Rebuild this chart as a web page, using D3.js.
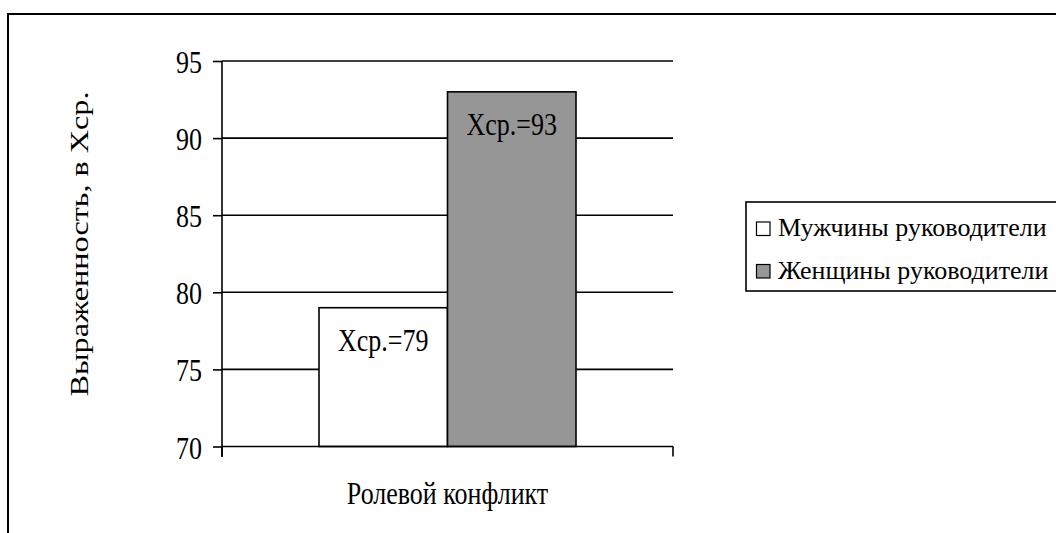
<!DOCTYPE html>
<html><head><meta charset="utf-8">
<script src="https://cdn.jsdelivr.net/npm/d3@7"></script>
<style>body{margin:0;background:#fff}svg{display:block}</style>
</head><body>
<svg id="c" width="1056" height="533" font-family="Times New Roman"></svg>
<script>
const categories = ["Ролевой конфликт"];
const seriesNames = ["Мужчины руководители", "Женщины руководители"];
const seriesValues = [79, 93];
const barLabels = ["Хср.=79", "Хср.=93"];
const seriesColors = ["#ffffff", "#969696"];
const yTicks = [70, 75, 80, 85, 90, 95];
const yTitle = "Выраженность, в Хср.";

(function(){
const svg = d3.select("#c");
const FF = "Times New Roman";
const fs = 26, sy = 1.2;
function txt(sel, size){ return sel.attr("font-family", FF).style("font-family", FF).style("font-size", size + "px").style("fill", "#000"); }
function placed(parent, x, b){ return txt(parent.append("text").attr("transform", `translate(${x},${b}) scale(1,${sy})`), fs); }

// outer frame
svg.append("path").attr("d","M8,540 V14 H1070").attr("fill","none").attr("stroke","#000").attr("stroke-width",2);

const pL = 222, pR = 673, pT = 61, pB = 446.5;
const y = d3.scaleLinear().domain([70,95]).range([pB, pT]);
const x0 = d3.scaleBand().domain(categories).range([pL, pR]);
const x1 = d3.scaleBand().domain(seriesNames).range([319 - pL, 576 - pL]);

// gridlines
svg.append("g").selectAll("line").data(yTicks.filter(t=>t>70)).join("line")
  .attr("x1", pL).attr("x2", pR).attr("y1", d=>y(d)).attr("y2", d=>y(d))
  .attr("stroke","#000").attr("stroke-width",1.6);

// bars
const g = svg.append("g");
seriesNames.forEach((s,i)=>{
  const bx = x0(categories[0]) + x1(s);
  g.append("rect").attr("x", bx).attr("y", y(seriesValues[i])).attr("width", x1.bandwidth()).attr("height", y(70)-y(seriesValues[i]))
   .attr("fill", seriesColors[i]).attr("stroke","#000").attr("stroke-width",1.6);
  placed(g, bx + x1.bandwidth()/2, y(seriesValues[i]) + 43).attr("text-anchor","middle").text(barLabels[i]);
});

// y axis
const yAxis = d3.axisLeft(y).tickValues(yTicks).tickSize(9).tickPadding(10).tickSizeOuter(0);
const ya = svg.append("g").attr("transform",`translate(${pL},0)`).call(yAxis).attr("font-family", FF);
ya.select(".domain").remove();
ya.selectAll("line").attr("stroke","#000").attr("stroke-width",1.6);
txt(ya.selectAll("text"), fs).attr("x", 0).attr("y", 0).attr("dy", null)
  .attr("transform", `translate(-20,11.5) scale(1,${sy})`);
svg.append("line").attr("x1",pL).attr("x2",pL).attr("y1",pT).attr("y2",457).attr("stroke","#000").attr("stroke-width",1.6);

// x axis
const xa = svg.append("g").attr("transform",`translate(0,${pB})`);
xa.append("line").attr("x1",pL).attr("x2",pR).attr("stroke","#000").attr("stroke-width",1.6);
[pL,pR].forEach(px=>xa.append("line").attr("x1",px).attr("x2",px).attr("y1",0).attr("y2",10).attr("stroke","#000").attr("stroke-width",1.6));
placed(xa, x0(categories[0]) + x0.bandwidth()/2, 57).attr("text-anchor","middle").text(categories[0]);

// y title
txt(svg.append("text").attr("transform",`translate(88,244) rotate(-90)`).attr("text-anchor","middle")
  .attr("textLength", 305).attr("lengthAdjust","spacingAndGlyphs"), fs).text(yTitle);

// legend
const lg = svg.append("g");
lg.append("rect").attr("x",746).attr("y",202).attr("width",400).attr("height",89).attr("fill","#fff").attr("stroke","#000").attr("stroke-width",1.6);
seriesNames.forEach((s,i)=>{
  const base = 236 + i*42.5;
  lg.append("rect").attr("x",756.5).attr("y",base-14).attr("width",13.5).attr("height",13.5).attr("fill",seriesColors[i]).attr("stroke","#000").attr("stroke-width",1.2);
  txt(lg.append("text").attr("x",778).attr("y",base), fs).text(s);
});
})();
</script>
</body></html>
